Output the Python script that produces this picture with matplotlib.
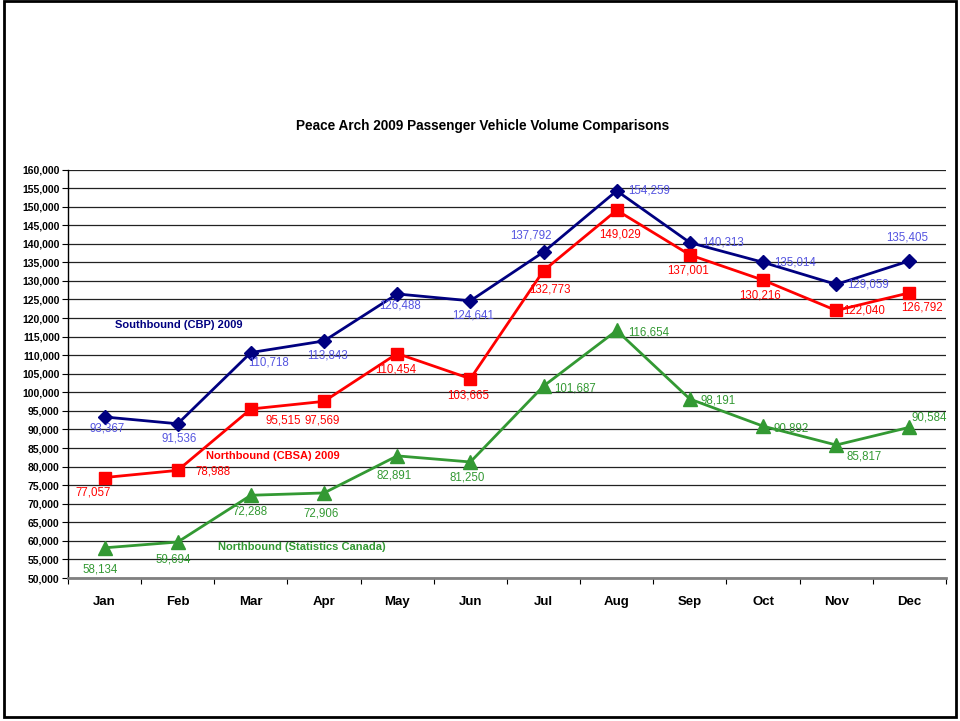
import matplotlib
matplotlib.use("Agg")
import matplotlib.pyplot as plt
from matplotlib.patches import Rectangle
from matplotlib.ticker import FuncFormatter, MultipleLocator

plt.rcParams['font.family'] = ['Liberation Sans', 'DejaVu Sans']

months = ["Jan", "Feb", "Mar", "Apr", "May", "Jun",
          "Jul", "Aug", "Sep", "Oct", "Nov", "Dec"]
south_cbp = [93367, 91536, 110718, 113843, 126488, 124641,
             137792, 154259, 140313, 135014, 129059, 135405]
north_cbsa = [77057, 78988, 95515, 97569, 110454, 103665,
              132773, 149029, 137001, 130216, 122040, 126792]
north_statcan = [58134, 59694, 72288, 72906, 82891, 81250,
                 101687, 116654, 98191, 90892, 85817, 90584]

# label offsets in pixels (dx, dy down), alignment
south_off = [(3, 12, 'center'), (1, 15, 'center'), (18, 10, 'center'), (3, 15, 'center'),
             (3, 12, 'center'), (3, 15, 'center'), (-13, -16, 'center'), (11, 0, 'left'),
             (12, 0, 'left'), (11, 0, 'left'), (11, 0, 'left'), (-2, -23, 'center')]
cbsa_off = [(-11, 15, 'center'), (18, 1, 'left'), (32, 12, 'center'), (-2, 19, 'center'),
            (-1, 16, 'center'), (-2, 17, 'center'), (6, 19, 'center'), (3, 24, 'center'),
            (-2, 16, 'center'), (-3, 15, 'center'), (7, 0, 'left'), (13, 15, 'center')]
statcan_off = [(-4, 22, 'center'), (-4, 17, 'center'), (-1, 16, 'center'), (-3, 21, 'center'),
               (-3, 20, 'center'), (-3, 16, 'center'), (11, 2, 'left'), (11, 2, 'left'),
               (11, 1, 'left'), (10, 2, 'left'), (10, 11, 'left'), (2, -10, 'left')]

navy = '#000080'
navy_lbl = '#5555E0'
red = '#FF0000'
green = '#339933'

fig = plt.figure(figsize=(9.6, 7.21), dpi=100)
ax = fig.add_axes([0.0708, 0.1983, 0.9146, 0.5666])

x = list(range(len(months)))
ax.plot(x, south_cbp, color=navy, lw=2, marker='D', ms=7, zorder=5)
ax.plot(x, north_cbsa, color=red, lw=2, marker='s', ms=9, zorder=5)
ax.plot(x, north_statcan, color=green, lw=2, marker='^', ms=10, zorder=5)


def add_labels(vals, offs, col):
    for i, v in enumerate(vals):
        dx, dy, ha = offs[i]
        ax.annotate(f"{v:,}", (i, v), xytext=(dx, -dy), textcoords='offset pixels',
                    ha=ha, va='center', fontsize=8.3, color=col, zorder=6)


add_labels(south_cbp, south_off, navy_lbl)
add_labels(north_cbsa, cbsa_off, red)
add_labels(north_statcan, statcan_off, green)

# series names written inside the plot
ax.text(0.14, 118100, "Southbound (CBP) 2009", color=navy, fontsize=8,
        fontweight='bold', ha='left', va='center')
ax.text(1.38, 82850, "Northbound (CBSA) 2009", color=red, fontsize=8,
        fontweight='bold', ha='left', va='center')
ax.text(1.55, 58350, "Northbound (Statistics Canada)", color=green, fontsize=8,
        fontweight='bold', ha='left', va='center')

ax.set_xlim(-0.5, 11.5)
ax.set_ylim(50000, 160000)
ax.yaxis.set_major_locator(MultipleLocator(5000))
ax.yaxis.set_major_formatter(FuncFormatter(lambda v, p: f"{int(v):,}"))
ax.set_xticks([i - 0.5 for i in range(13)])
ax.set_xticklabels([])
ax.set_xticks(x, minor=True)
ax.set_xticklabels(months, minor=True, fontweight='bold', fontsize=9.5)
ax.tick_params(axis='x', which='minor', length=0, pad=13)
ax.tick_params(axis='x', which='major', length=4, direction='out', color='black')
ax.tick_params(axis='y', length=4, direction='out', labelsize=7.5, pad=2)
for t in ax.get_yticklabels():
    t.set_fontweight('bold')

ax.grid(axis='y', color='#222222', lw=0.9)
ax.set_axisbelow(True)
for s in ['top', 'right']:
    ax.spines[s].set_visible(False)
ax.spines['left'].set_color('black')
ax.spines['left'].set_linewidth(1)
ax.spines['bottom'].set_color('#808080')
ax.spines['bottom'].set_linewidth(2)

fig.text(0.503, 0.825, "Peace Arch 2009 Passenger Vehicle Volume Comparisons",
         ha='center', va='center', fontsize=9.8, fontweight='bold')

fig.patches.append(Rectangle((0.004, 0.005), 0.992, 0.993, transform=fig.transFigure,
                             fill=False, edgecolor='black', lw=2))

fig.savefig("out.png", dpi=100)
